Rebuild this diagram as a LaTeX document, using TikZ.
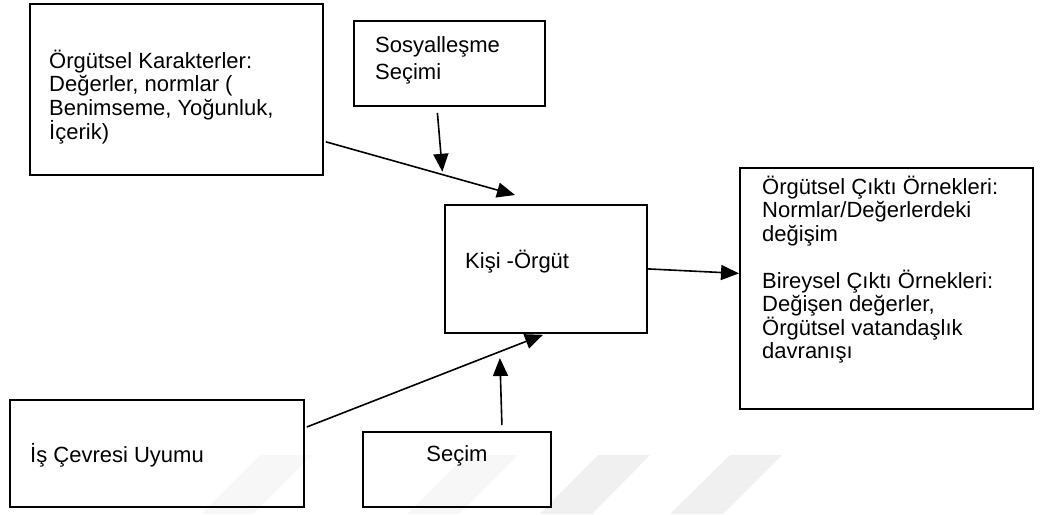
\documentclass[tikz,border=0pt]{standalone}
\usepackage{fontspec}
\setmainfont{Liberation Sans}
\usetikzlibrary{arrows.meta,calc}

% left-aligned lines whose first baseline is the node's base
\newcommand\txtlines[1]{\vtop{\halign{##\hfil\cr#1\crcr}}}

\begin{document}
\begin{tikzpicture}[x=1pt,y=-1pt,
  box/.style={draw=black, line width=1.8pt, inner sep=0pt, anchor=north west},
  lbl/.style={anchor=base west, inner sep=0pt, text=black,
              font=\fontsize{22}{23.5}\selectfont},
  conn/.style={line width=1.6pt, -{Triangle[length=18pt,width=15pt]}},
  wm/.style={fill=black!6, draw=none},
  wmlight/.style={fill=black!3, draw=none}]

\fill[white] (0,0) rectangle (1041,514);
\useasboundingbox (0,0) rectangle (1041,514);

% faint watermark stripes along the bottom edge
\fill[wmlight] (260,455) -- (312,455) -- (253,514) -- (201,514) -- cycle;
\fill[wmlight] (466,455) -- (518,455) -- (459,514) -- (407,514) -- cycle;
\fill[wm] (598,455) -- (650,455) -- (592,514) -- (540,514) -- cycle;
\fill[wm] (730,455) -- (782,455) -- (723,514) -- (670,514) -- cycle;

% boxes
\node[box, minimum width=293pt, minimum height=171pt] (ork) at (29,3) {};
\node[box, minimum width=191pt, minimum height=85pt]  (sos) at (353,20) {};
\node[box, minimum width=202pt, minimum height=128pt] (ko)  at (444,204) {};
\node[box, minimum width=293pt, minimum height=241pt] (cik) at (739,167) {};
\node[box, minimum width=294pt, minimum height=107pt] (isc) at (9,399) {};
\node[box, minimum width=188pt, minimum height=75pt]  (sec) at (362,431) {};

% texts
\node[lbl] (orkT) at (49,68) {\txtlines{Örgütsel Karakterler:\cr
  Değerler, normlar (\cr Benimseme, Yoğunluk,\cr İçerik)}};
\node[lbl, font=\fontsize{22}{27}\selectfont] (sosT) at (375,52)
  {\txtlines{Sosyalleşme\cr Seçimi}};
\node[lbl] (koT) at (465,268) {Kişi -Örgüt};
\node[lbl] (cikT) at (762,194) {\txtlines{Örgütsel Çıktı Örnekleri:\cr
  Normlar/Değerlerdeki\cr değişim\cr\cr Bireysel Çıktı Örnekleri:\cr
  Değişen değerler,\cr Örgütsel vatandaşlık\cr davranışı}};
\node[lbl] (iscT) at (30,462) {İş Çevresi Uyumu};
\node[lbl, anchor=base] (secT) at ($(sec.north)+(0,30)$) {Seçim};

% connector end points
\coordinate (a1s) at ($(ork.south east)+(2,-34)$);
\coordinate (a1e) at ($(ko.north west)+(71,-9)$);
\coordinate (a2s) at ($(sos.south)+(-12,6)$);
\coordinate (a2e) at ($(sos.south)+(-7,65)$);
\coordinate (a3s) at ($(isc.north east)+(2,28)$);
\coordinate (a3e) at ($(ko.south west)+(99,1)$);
\coordinate (a4s) at ($(sec.north)+(45,-6)$);
\coordinate (a4e) at ($(sec.north)+(43,-73)$);
\coordinate (a5e) at ($(cik.west)+(0,-15)$);

% connectors
\draw[conn] (a1s) -- (a1e);
\draw[conn] (a2s) -- (a2e);
\draw[conn] (a3s) -- (a3e);
\draw[conn] (a4s) -- (a4e);
\draw[conn] (ko.east) -- (a5e);
\end{tikzpicture}
\end{document}
